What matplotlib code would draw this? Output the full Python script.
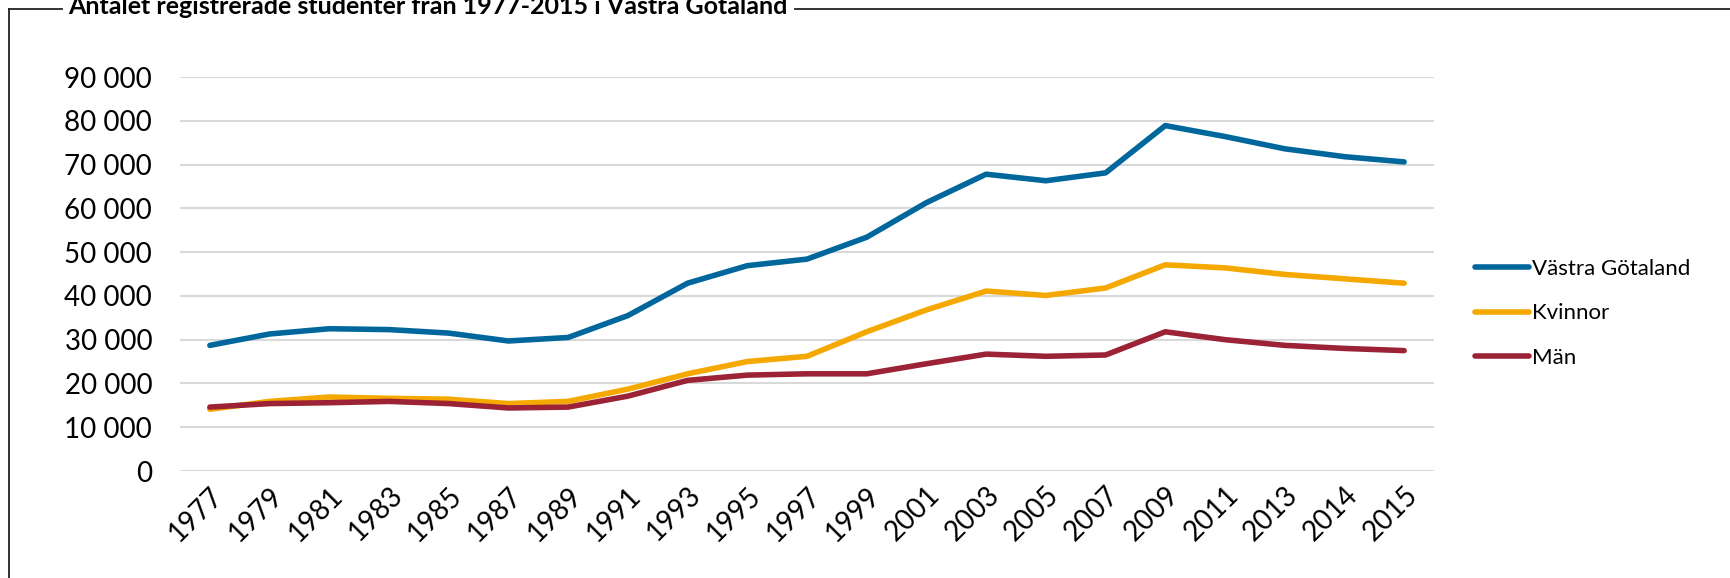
import matplotlib
matplotlib.use("Agg")
import matplotlib.pyplot as plt
from matplotlib.lines import Line2D

years = ["1977", "1979", "1981", "1983", "1985", "1987", "1989", "1991", "1993", "1995",
         "1997", "1999", "2001", "2003", "2005", "2007", "2009", "2011", "2013", "2014", "2015"]
vastra_gotaland = [28700, 31300, 32500, 32300, 31500, 29700, 30500, 35500, 42900, 46900,
                   48400, 53400, 61300, 67800, 66300, 68100, 78900, 76400, 73600, 71800, 70600]
kvinnor = [14100, 15900, 16900, 16600, 16400, 15400, 15900, 18700, 22200, 25000,
           26200, 31800, 36800, 41100, 40100, 41800, 47100, 46400, 44900, 43900, 42900]
man = [14600, 15400, 15600, 15900, 15400, 14400, 14600, 17100, 20700, 21900,
       22200, 22200, 24500, 26700, 26200, 26500, 31800, 30000, 28700, 28000, 27500]
series_names = ["Västra Götaland", "Kvinnor", "Män"]
yticks = list(range(0, 90001, 10000))
title = "Antalet registrerade studenter från 1977-2015 i Västra Götaland"

colors = ["#00679C", "#F5A800", "#9B2335"]

plt.rcParams['font.family'] = ['Lato', 'DejaVu Sans']

fig = plt.figure(figsize=(17.3, 5.78), dpi=100)
ax = fig.add_axes([180/1730, 1-471/578, (1434-180)/1730, (471-77)/578])

x = list(range(len(years)))
for vals, name, c in zip([vastra_gotaland, kvinnor, man], series_names, colors):
    ax.plot(x, vals, color=c, lw=4.0, label=name, solid_capstyle='round', solid_joinstyle='round')

ax.set_xlim(-0.5, len(years) - 0.5)
ax.set_ylim(0, 90000)
ax.set_yticks(yticks)
ax.set_yticklabels([f"{v:,}".replace(",", " ") for v in yticks], fontsize=20)
ax.set_xticks(x)
ax.set_xticklabels(years, fontsize=20, rotation=45, ha='right', va='top', rotation_mode='anchor')
ax.tick_params(axis='both', length=0)
ax.tick_params(axis='y', pad=20)
ax.tick_params(axis='x', pad=8)
ax.grid(axis='y', color='#D9D9D9', lw=1.5)
ax.set_axisbelow(True)
for s in ax.spines.values():
    s.set_visible(False)

leg = ax.legend(loc='center left', bbox_to_anchor=(1.033, 0.40), frameon=False, fontsize=16,
                handlelength=2.4, handletextpad=0.15, labelspacing=1.1,
                borderpad=0, borderaxespad=0)

fig.text(68/1730, 1 - 14/578, title, fontsize=18, fontweight='bold', ha='left', va='baseline')

ly = 1 - 9/578
lx = 9/1730
fig.add_artist(Line2D([lx, 62/1730], [ly, ly], color='#222222', lw=1.3, transform=fig.transFigure))
fig.add_artist(Line2D([795/1730, 1.0], [ly, ly], color='#222222', lw=1.3, transform=fig.transFigure))
fig.add_artist(Line2D([lx, lx], [0, ly], color='#222222', lw=1.3, transform=fig.transFigure))

fig.savefig("out.png", dpi=100, facecolor='white')
